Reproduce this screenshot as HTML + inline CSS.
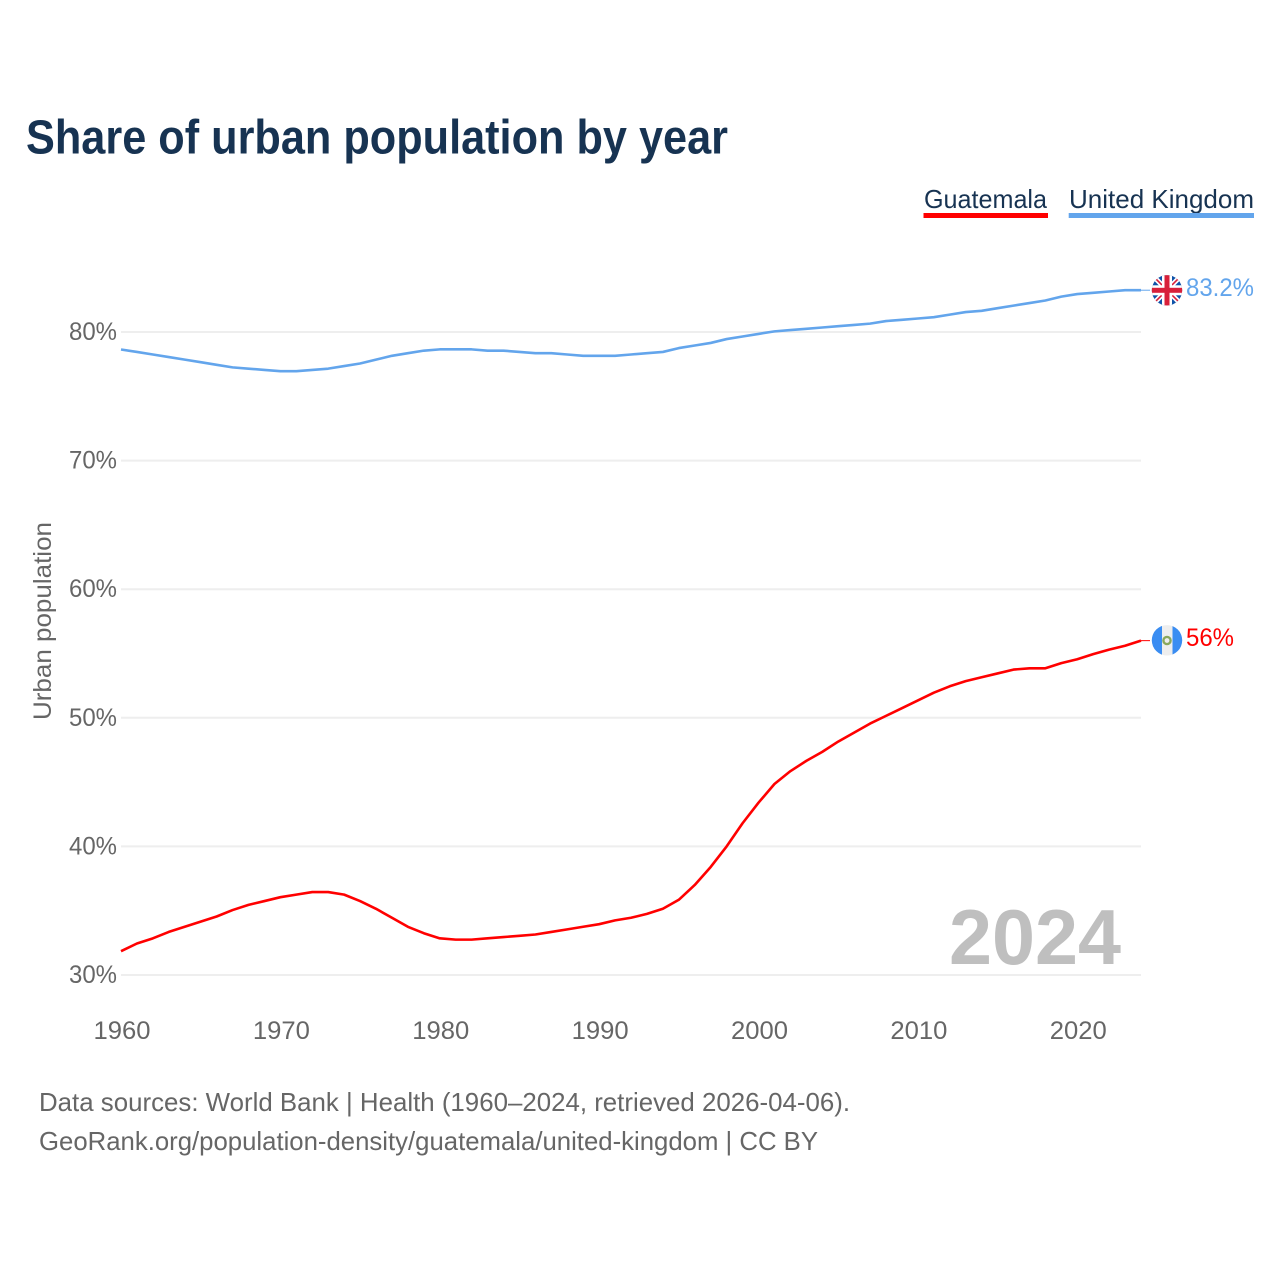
<!DOCTYPE html>
<html lang="en">
<head>
<meta charset="utf-8">
<title>Share of urban population by year</title>
<style>
html,body{margin:0;padding:0;background:#fff;width:1280px;height:1280px;overflow:hidden}
svg{display:block}
text{font-family:"Liberation Sans",sans-serif}
</style>
</head>
<body>
<svg id="chart" xmlns="http://www.w3.org/2000/svg" width="1280" height="1280" viewBox="0 0 1280 1280">
  <rect x="0" y="0" width="1280" height="1280" fill="#ffffff"/>
  <text x="26" y="153.5" font-size="48" font-weight="700" fill="#173352" textLength="702" lengthAdjust="spacingAndGlyphs">Share of urban population by year</text>

  <g>
    <text x="924" y="208" font-size="26" fill="#173352" textLength="123" lengthAdjust="spacingAndGlyphs">Guatemala</text>
    <rect x="923.5" y="213" width="124.5" height="5" fill="#ff0000"/>
  </g>
  <g>
    <text x="1069" y="208" font-size="26" fill="#173352" textLength="185" lengthAdjust="spacingAndGlyphs">United Kingdom</text>
    <rect x="1068.7" y="213" width="185.3" height="5" fill="#63a5ec"/>
  </g>

  <g id="grid"></g>
  <g id="yticks"></g>
  <g id="xticks"></g>

  <text transform="translate(51,621) rotate(-90)" text-anchor="middle" font-size="25" fill="#666666" textLength="198" lengthAdjust="spacingAndGlyphs">Urban population</text>

  <text x="949" y="964" font-size="78" font-weight="700" fill="#bfbfbf" textLength="172" lengthAdjust="spacingAndGlyphs">2024</text>

  <g id="series"></g>

  <defs>
    <clipPath id="uk-clip"><circle cx="1167" cy="290.3" r="15.2"/></clipPath>
    <clipPath id="gt-clip"><circle cx="1167" cy="640.3" r="15.2"/></clipPath>
  </defs>

  <g clip-path="url(#uk-clip)">
    <rect x="1151" y="275" width="32" height="31" fill="#0f52a8"/>
    <path d="M1152 275L1182 305M1182 275L1152 305" stroke="#ffffff" stroke-width="5"/>
    <path d="M1152 275L1182 305M1182 275L1152 305" stroke="#d8203a" stroke-width="1.6"/>
    <rect x="1162" y="275" width="10" height="31" fill="#ffffff"/>
    <rect x="1151" y="285.3" width="32" height="10" fill="#ffffff"/>
    <rect x="1164.5" y="275" width="5" height="31" fill="#d8203a"/>
    <rect x="1151" y="287.8" width="32" height="5" fill="#d8203a"/>
  </g>
  <text id="uk-label" x="1186" y="296" font-size="25" fill="#63a5ec" textLength="68" lengthAdjust="spacingAndGlyphs">83.2%</text>

  <g clip-path="url(#gt-clip)">
    <rect x="1151" y="625" width="32" height="31" fill="#eeeeee"/>
    <rect x="1151" y="625" width="11" height="31" fill="#3a8df2"/>
    <rect x="1172.5" y="625" width="11" height="31" fill="#3a8df2"/>
    <circle cx="1167" cy="640.5" r="3.6" fill="none" stroke="#8aa85c" stroke-width="2.4"/>
  </g>
  <text id="gt-label" x="1186" y="646" font-size="25" fill="#ff0000" textLength="48" lengthAdjust="spacingAndGlyphs">56%</text>

  <text x="39" y="1111" font-size="26" fill="#666666" textLength="811" lengthAdjust="spacingAndGlyphs">Data sources: World Bank | Health (1960–2024, retrieved 2026-04-06).</text>
  <text x="39" y="1150" font-size="26" fill="#666666" textLength="779" lengthAdjust="spacingAndGlyphs">GeoRank.org/population-density/guatemala/united-kingdom | CC BY</text>
</svg>

<script>
const firstYear = 1960;
const yTickValues = [30, 40, 50, 60, 70, 80];
const yTickLabels = ["30%", "40%", "50%", "60%", "70%", "80%"];
const xTickValues = [1960, 1970, 1980, 1990, 2000, 2010, 2020];
const xTickLabels = ["1960", "1970", "1980", "1990", "2000", "2010", "2020"];

const guatemalaValues = [
  31.85, 32.45, 32.85, 33.35, 33.75, 34.15, 34.55, 35.05, 35.45, 35.75,
  36.05, 36.25, 36.45, 36.45, 36.25, 35.75, 35.15, 34.45, 33.75, 33.25,
  32.85, 32.75, 32.75, 32.85, 32.95, 33.05, 33.15, 33.35, 33.55, 33.75,
  33.95, 34.25, 34.45, 34.75, 35.15, 35.85, 37.0, 38.4, 40.0, 41.8,
  43.4, 44.85, 45.85, 46.65, 47.35, 48.15, 48.85, 49.55, 50.15, 50.75,
  51.35, 51.95, 52.45, 52.85, 53.15, 53.45, 53.75, 53.85, 53.85, 54.25,
  54.55, 54.95, 55.3, 55.6, 56.0
];
const unitedKingdomValues = [
  78.64, 78.45, 78.25, 78.05, 77.85, 77.65, 77.45, 77.25, 77.15, 77.05,
  76.95, 76.95, 77.05, 77.15, 77.35, 77.55, 77.85, 78.15, 78.35, 78.55,
  78.65, 78.65, 78.65, 78.55, 78.55, 78.45, 78.35, 78.35, 78.25, 78.15,
  78.15, 78.15, 78.25, 78.35, 78.45, 78.75, 78.95, 79.15, 79.45, 79.65,
  79.85, 80.05, 80.15, 80.25, 80.35, 80.45, 80.55, 80.65, 80.85, 80.95,
  81.05, 81.15, 81.35, 81.55, 81.65, 81.85, 82.05, 82.25, 82.45, 82.75,
  82.95, 83.05, 83.15, 83.25, 83.25
];

const SVG_NS = "http://www.w3.org/2000/svg";
function xScale(year) { return 121 + (year - 1960) * (1020 / 64); }
function yScale(v) { return 975 - (v - 30) * 12.86; }

const gridGroup = document.getElementById("grid");
const yTickGroup = document.getElementById("yticks");
const xTickGroup = document.getElementById("xticks");
const seriesGroup = document.getElementById("series");

yTickValues.forEach(function (v, i) {
  const line = document.createElementNS(SVG_NS, "line");
  
  
  line.setAttribute("x1", 121);
  line.setAttribute("x2", 1141);
  line.setAttribute("y1", yScale(v));
  line.setAttribute("y2", yScale(v));
  line.setAttribute("stroke", "#eeeeee");
  line.setAttribute("stroke-width", 2);
  gridGroup.appendChild(line);

  const label = document.createElementNS(SVG_NS, "text");
  
  
  label.setAttribute("x", 117);
  label.setAttribute("y", yScale(v) + 8);
  label.setAttribute("text-anchor", "end");
  label.setAttribute("font-size", 25);
  label.setAttribute("fill", "#666666");
  label.setAttribute("textLength", 48);
  label.setAttribute("lengthAdjust", "spacingAndGlyphs");
  label.textContent = yTickLabels[i];
  yTickGroup.appendChild(label);
});

xTickValues.forEach(function (year, i) {
  const label = document.createElementNS(SVG_NS, "text");
  
  
  label.setAttribute("x", xScale(year) + 1);
  label.setAttribute("y", 1039);
  label.setAttribute("text-anchor", "middle");
  label.setAttribute("font-size", 25);
  label.setAttribute("fill", "#666666");
  label.setAttribute("textLength", 57);
  label.setAttribute("lengthAdjust", "spacingAndGlyphs");
  label.textContent = xTickLabels[i];
  xTickGroup.appendChild(label);
});

function linePoints(values) {
  return values.map(function (v, i) {
    return xScale(firstYear + i).toFixed(2) + "," + yScale(v).toFixed(2);
  }).join(" ");
}

const guatemalaLine = document.createElementNS(SVG_NS, "polyline");


guatemalaLine.setAttribute("points", linePoints(guatemalaValues));
guatemalaLine.setAttribute("fill", "none");
guatemalaLine.setAttribute("stroke", "#ff0000");
guatemalaLine.setAttribute("stroke-width", 2.6);
guatemalaLine.setAttribute("stroke-linejoin", "round");
seriesGroup.appendChild(guatemalaLine);

const unitedKingdomLine = document.createElementNS(SVG_NS, "polyline");


unitedKingdomLine.setAttribute("points", linePoints(unitedKingdomValues));
unitedKingdomLine.setAttribute("fill", "none");
unitedKingdomLine.setAttribute("stroke", "#63a5ec");
unitedKingdomLine.setAttribute("stroke-width", 2.6);
unitedKingdomLine.setAttribute("stroke-linejoin", "round");
seriesGroup.appendChild(unitedKingdomLine);

const guatemalaLeader = document.createElementNS(SVG_NS, "line");


guatemalaLeader.setAttribute("x1", xScale(2024));
guatemalaLeader.setAttribute("x2", 1150);
guatemalaLeader.setAttribute("y1", yScale(guatemalaValues[guatemalaValues.length - 1]));
guatemalaLeader.setAttribute("y2", yScale(guatemalaValues[guatemalaValues.length - 1]));
guatemalaLeader.setAttribute("stroke", "#ff0000");
guatemalaLeader.setAttribute("stroke-width", 1);
seriesGroup.appendChild(guatemalaLeader);

const unitedKingdomLeader = document.createElementNS(SVG_NS, "line");


unitedKingdomLeader.setAttribute("x1", xScale(2024));
unitedKingdomLeader.setAttribute("x2", 1150);
unitedKingdomLeader.setAttribute("y1", yScale(unitedKingdomValues[unitedKingdomValues.length - 1]));
unitedKingdomLeader.setAttribute("y2", yScale(unitedKingdomValues[unitedKingdomValues.length - 1]));
unitedKingdomLeader.setAttribute("stroke", "#63a5ec");
unitedKingdomLeader.setAttribute("stroke-width", 1);
seriesGroup.appendChild(unitedKingdomLeader);
</script>
</body>
</html>
